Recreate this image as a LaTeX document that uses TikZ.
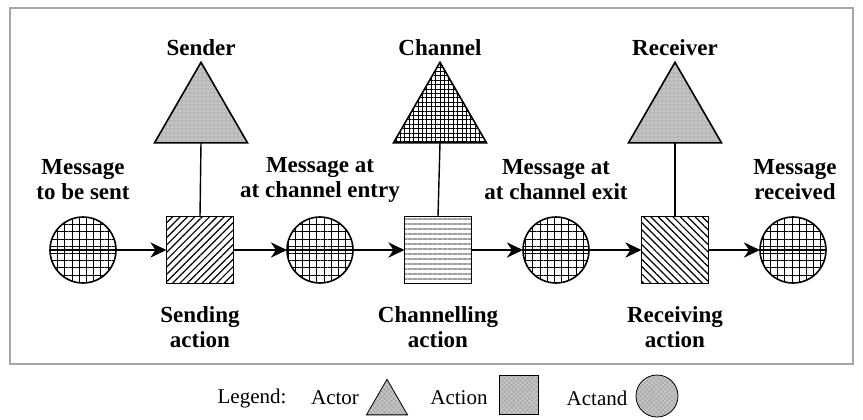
\documentclass[tikz,border=0pt]{standalone}
\usepackage{fontspec}
\setmainfont{Liberation Serif}
\usetikzlibrary{shapes.geometric,patterns.meta,arrows.meta}
\tikzset{
  actand/.style={circle,draw,thick,minimum size=33pt,inner sep=0pt,outer sep=0pt,
    pattern={Hatch[distance=3.6pt,line width=0.35pt]}},
  action/.style={rectangle,draw,thick,minimum size=33.5pt,inner sep=0pt,outer sep=0pt},
  actor/.style={regular polygon,regular polygon sides=3,draw,thick,minimum size=53.7pt,
    inner sep=0pt,outer sep=0pt},
  lbl/.style={align=center,font=\bfseries\fontsize{11.5}{12.5}\selectfont},
  legtext/.style={font=\fontsize{10.5}{12}\selectfont},
  flow/.style={line width=1.4pt,-{Stealth[length=8pt,width=7.5pt,inset=2.5pt]}},
  link/.style={line width=0.7pt},
  dotty/.style={preaction={fill=gray!55},pattern={Dots[radius=0.35pt,distance=2pt]},pattern color=white},
  checky/.style={preaction={fill=gray!65},pattern={Hatch[angle=45,distance=1.6pt,line width=0.3pt]},pattern color=gray!40},
}
\begin{document}
\begin{tikzpicture}[x=0.5pt,y=-0.5pt]
  \useasboundingbox (0,0) rectangle (863,419);
  \draw [gray!70,line width=0.9pt] (10,8) rectangle (853,364);

  % actands
  \node [actand] (m1) at (83,250) {};
  \node [actand] (m2) at (320,250) {};
  \node [actand] (m3) at (556,250) {};
  \node [actand] (m4) at (793,250) {};
  \node [lbl] (m1lbl) at (83,180) {Message\\to be sent};
  \node [lbl] (m2lbl) at (320,180) {Message at\\at channel entry};
  \node [lbl] (m3lbl) at (556,180) {Message at\\at channel exit};
  \node [lbl] (m4lbl) at (795,180) {Message\\received};

  % actions
  \node [action,pattern={Lines[angle=45,distance=2.6pt,line width=0.6pt]}] (a1) at (200,250) {};
  \node [action,pattern={Lines[angle=0,distance=2.5pt,line width=0.6pt]},pattern color=gray!75] (a2) at (438,250) {};
  \node [action,pattern={Lines[angle=-45,distance=2.6pt,line width=0.6pt]}] (a3) at (675,250) {};
  \node [lbl] (a1lbl) at (200,327) {Sending\\action};
  \node [lbl] (a2lbl) at (438,327) {Channelling\\action};
  \node [lbl] (a3lbl) at (675,327) {Receiving\\action};

  % actors
  \node [actor,dotty] (t1) at (201,116) {};
  \node [actor,pattern={Hatch[distance=2.2pt,line width=0.5pt]}] (t2) at (440,116) {};
  \node [actor,dotty] (t3) at (675,116) {};
  \node [lbl] (t1lbl) at (201,48) {Sender};
  \node [lbl] (t2lbl) at (440,48) {Channel};
  \node [lbl] (t3lbl) at (675,48) {Receiver};

  \draw [link] (t1.south) -- (a1.north);
  \draw [link] (t2.south) -- (a2.north);
  \draw [link] (t3.south) -- (a3.north);

  \draw [flow] (m1.west) -- (a1.west);
  \draw [flow] (a1.east) -- (m2.west);
  \draw [flow] (m2.west) -- (a2.west);
  \draw [flow] (a2.east) -- (m3.west);
  \draw [flow] (m3.west) -- (a3.west);
  \draw [flow] (a3.east) -- (m4.west);
  \draw [line width=1.4pt] (m4.west) -- (m4.east);

  % legend
  \node [legtext] (leg) at (252,398) {Legend:};
  \node [legtext] (legactor) at (335,398) {Actor};
  \node [actor,checky,minimum size=23.7pt,thin] (legt) at (387,403) {};
  \node [legtext] (legaction) at (459,398) {Action};
  \node [action,checky,minimum size=19.5pt,thin] (lega) at (519,395) {};
  \node [legtext] (legactand) at (597,398) {Actand};
  \node [actand,checky,minimum size=21pt,thin] (legm) at (657,396) {};
\end{tikzpicture}
\end{document}
